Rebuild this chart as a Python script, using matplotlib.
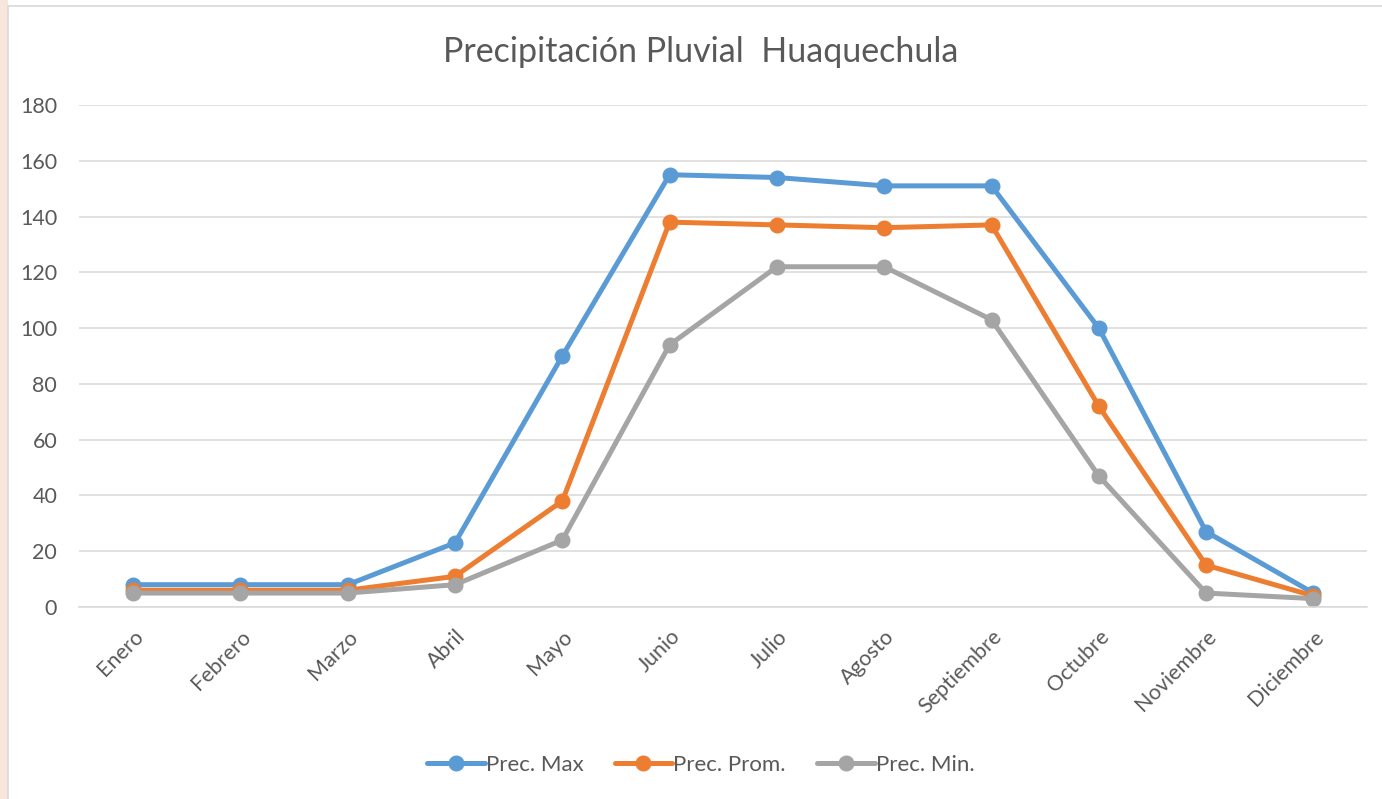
import matplotlib.pyplot as plt
from matplotlib.patches import Rectangle

# datos
meses = ['Enero', 'Febrero', 'Marzo', 'Abril', 'Mayo', 'Junio', 'Julio',
         'Agosto', 'Septiembre', 'Octubre', 'Noviembre', 'Diciembre']
prec_max = [8, 8, 8, 23, 90, 155, 154, 151, 151, 100, 27, 5]
prec_prom = [6, 6, 6, 11, 38, 138, 137, 136, 137, 72, 15, 4]
prec_min = [5, 5, 5, 8, 24, 94, 122, 122, 103, 47, 5, 3]

plt.rcParams['font.family'] = ['Lato', 'DejaVu Sans']
txt = '#595959'

fig = plt.figure(figsize=(13.82, 7.99), dpi=100)
fig.patch.set_facecolor('white')

# borde del area del grafico
fig.patches.append(Rectangle((0, 0), 8 / 1382, 1, transform=fig.transFigure,
                             facecolor='#f8e6dc', edgecolor='none', zorder=0))
fig.patches.append(Rectangle((8 / 1382, -0.01), 1, 1 - 6 / 799 + 0.01,
                             transform=fig.transFigure, facecolor='white',
                             edgecolor='#d9d9d9', linewidth=1.2, zorder=0))

ax = fig.add_axes([0.0575, 0.2403, 0.9317, 0.6283])
ax.set_zorder(2)
ax.set_facecolor('none')

x = range(len(meses))
series = [(prec_max, '#5B9BD5', 'Prec. Max'),
          (prec_prom, '#ED7D31', 'Prec. Prom.'),
          (prec_min, '#A5A5A5', 'Prec. Min.')]
for vals, c, lab in series:
    ax.plot(x, vals, color=c, lw=3.6, marker='o', ms=10.5, label=lab,
            solid_capstyle='round', solid_joinstyle='round')

ax.set_xlim(-0.5, 11.5)
ax.set_ylim(0, 180)
ax.set_yticks(range(0, 181, 20))
ax.grid(axis='y', color='#d9d9d9', lw=1.1)
ax.set_axisbelow(True)
for s in ['top', 'right', 'left']:
    ax.spines[s].set_visible(False)
ax.spines['bottom'].set_color('#d9d9d9')
ax.spines['bottom'].set_linewidth(1.1)
ax.tick_params(length=0, colors=txt, labelsize=15.5)
ax.tick_params(axis='y', pad=16)
ax.set_xticks(list(x))
ax.set_xticklabels(meses, rotation=45, ha='right', rotation_mode='anchor')
ax.tick_params(axis='x', pad=14)

fig.text(0.507, 0.935, 'Precipitación Pluvial  Huaquechula', ha='center',
         va='center', fontsize=24.5, color=txt, zorder=3)

leg = fig.legend(loc='center', bbox_to_anchor=(0.507, 0.043), ncol=3,
                 frameon=False, fontsize=16, labelcolor=txt, handlelength=2.6,
                 handletextpad=0.05, columnspacing=1.4)
leg.set_zorder(3)

fig.savefig('out.png', dpi=100)
